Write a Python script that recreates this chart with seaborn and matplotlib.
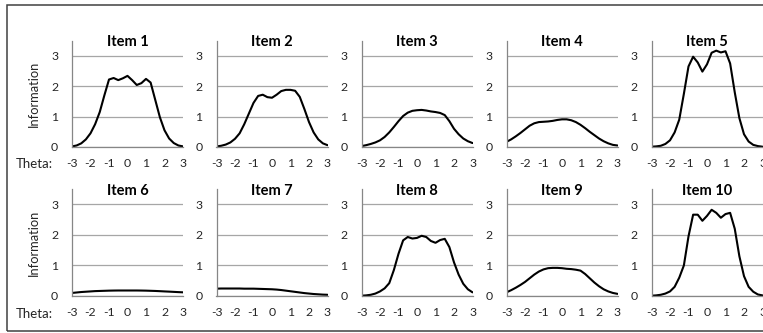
import matplotlib.pyplot as plt
from matplotlib.patches import Rectangle
from matplotlib.ticker import MultipleLocator
import seaborn as sns

# item information curves at theta steps of 0.25
theta = [-3, -2.75, -2.5, -2.25, -2, -1.75, -1.5, -1.25, -1, -0.75, -0.5, -0.25, 0,
         0.25, 0.5, 0.75, 1, 1.25, 1.5, 1.75, 2, 2.25, 2.5, 2.75, 3]

item1 = [0.02, 0.05, 0.12, 0.25, 0.45, 0.75, 1.15, 1.7, 2.22, 2.27, 2.2, 2.26, 2.34,
         2.2, 2.04, 2.1, 2.24, 2.12, 1.55, 0.98, 0.55, 0.28, 0.13, 0.05, 0.02]
item2 = [0.02, 0.04, 0.08, 0.15, 0.27, 0.45, 0.75, 1.1, 1.45, 1.68, 1.72, 1.64, 1.62,
         1.72, 1.84, 1.88, 1.88, 1.85, 1.65, 1.25, 0.82, 0.48, 0.25, 0.12, 0.06]
item3 = [0.03, 0.06, 0.1, 0.15, 0.22, 0.33, 0.48, 0.66, 0.85, 1.02, 1.13, 1.19, 1.21,
         1.22, 1.2, 1.17, 1.15, 1.12, 1.05, 0.85, 0.6, 0.42, 0.28, 0.19, 0.13]
item4 = [0.17, 0.25, 0.35, 0.46, 0.58, 0.7, 0.78, 0.82, 0.83, 0.84, 0.86, 0.89, 0.91,
         0.91, 0.88, 0.82, 0.73, 0.62, 0.5, 0.39, 0.28, 0.19, 0.12, 0.07, 0.05]
item5 = [0.01, 0.02, 0.04, 0.1, 0.22, 0.48, 0.9, 1.75, 2.65, 2.97, 2.78, 2.48, 2.72,
         3.1, 3.17, 3.11, 3.15, 2.75, 1.8, 0.95, 0.42, 0.18, 0.07, 0.03, 0.01]
item6 = [0.1, 0.115, 0.13, 0.14, 0.15, 0.16, 0.165, 0.17, 0.175, 0.178, 0.18, 0.18, 0.18,
         0.18, 0.18, 0.178, 0.175, 0.17, 0.165, 0.158, 0.15, 0.143, 0.135, 0.127, 0.12]
item7 = [0.24, 0.245, 0.245, 0.245, 0.245, 0.245, 0.24, 0.24, 0.24, 0.235, 0.23, 0.225, 0.22,
         0.21, 0.195, 0.175, 0.155, 0.135, 0.115, 0.095, 0.08, 0.065, 0.055, 0.045, 0.04]
item8 = [0.01, 0.02, 0.04, 0.08, 0.15, 0.25, 0.42, 0.85, 1.38, 1.82, 1.93, 1.88, 1.9,
         1.97, 1.93, 1.8, 1.74, 1.83, 1.87, 1.6, 1.1, 0.7, 0.4, 0.22, 0.12]
item9 = [0.12, 0.19, 0.27, 0.36, 0.46, 0.58, 0.7, 0.8, 0.87, 0.91, 0.92, 0.92, 0.91,
         0.89, 0.88, 0.86, 0.83, 0.72, 0.58, 0.44, 0.32, 0.22, 0.15, 0.1, 0.07]
item10 = [0.01, 0.02, 0.04, 0.08, 0.15, 0.3, 0.6, 1.0, 1.95, 2.66, 2.66, 2.46, 2.62,
          2.82, 2.72, 2.56, 2.68, 2.72, 2.2, 1.3, 0.65, 0.3, 0.14, 0.05, 0.02]

items = [item1, item2, item3, item4, item5, item6, item7, item8, item9, item10]
titles = ['Item %d' % (i + 1) for i in range(10)]

sns.set_style('white')
plt.rcParams['font.family'] = ['Lato', 'DejaVu Sans']
plt.rcParams['axes.unicode_minus'] = False

W, H = 763, 333
fig = plt.figure(figsize=(W / 100, H / 100), dpi=100)

# panel layout in pixels (left edges, top/bottom of each row)
lefts = [72, 216.5, 361.5, 506.5, 651.5]
rows = [(40.6, 147), (189, 296)]
axis_col = '#868686'
txt_col = '#262626'

for i, vals in enumerate(items):
    r, c = divmod(i, 5)
    top, bot = rows[r]
    ax = fig.add_axes([lefts[c] / W, 1 - bot / H, 111 / W, (bot - top) / H])
    sns.lineplot(x=theta, y=vals, ax=ax, color='black', lw=1.5)
    ax.set_xlim(-3, 3)
    ax.set_ylim(0, 3.5)
    ax.xaxis.set_major_locator(MultipleLocator(1))
    ax.xaxis.set_minor_locator(MultipleLocator(0.5))
    ax.yaxis.set_major_locator(MultipleLocator(1))
    ax.yaxis.set_minor_locator(MultipleLocator(0.5))
    ax.yaxis.grid(True, color='#a6a6a6', lw=0.9)
    ax.set_axisbelow(True)
    for s in ['top', 'right']:
        ax.spines[s].set_visible(False)
    for s in ['left', 'bottom']:
        ax.spines[s].set_color(axis_col)
        ax.spines[s].set_linewidth(0.9)
    ax.tick_params(which='both', direction='out', length=3, width=0.8,
                   color=axis_col, labelsize=8.8, labelcolor=txt_col)
    ax.tick_params(axis='x', pad=5)
    ax.tick_params(axis='y', pad=7)
    ax.text(0.5, 0.985, titles[i], transform=ax.transAxes, ha='center', va='center',
            fontsize=10.5, fontweight='bold', color='black')

for top, bot in rows:
    fig.text(34 / W, 1 - (top + bot) / 2 / H, 'Information', rotation=90,
             ha='center', va='center', fontsize=9.3, color=txt_col)
    fig.text(34 / W, 1 - (bot + 17.5) / H, 'Theta:', ha='center', va='center',
             fontsize=9.5, color=txt_col)

# outer chart frame (runs off the right edge like the reference)
fig.patches.append(Rectangle((7 / W, 2 / H), 1.1, 326.5 / H, transform=fig.transFigure,
                             fill=False, lw=1.1, edgecolor='#404040'))

fig.savefig('out.png', dpi=100)
